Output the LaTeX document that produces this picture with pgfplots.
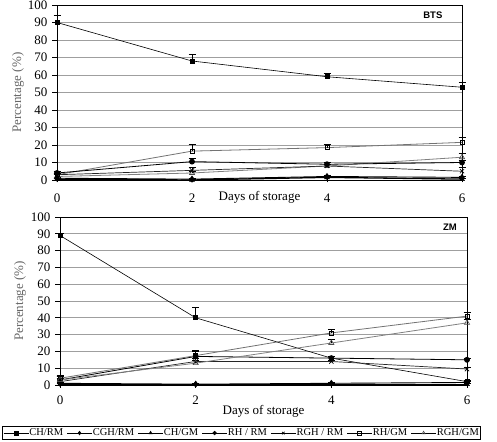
\documentclass[border=0pt]{standalone}
\usepackage{fontspec}
\setmainfont{Liberation Serif}
\newfontfamily\sansb{Liberation Sans}
\usepackage{pgfplots}
\usepackage{pgfplotstable}
\pgfplotsset{compat=1.18}

% BTS data: x y err
\pgfplotstableread{
x y e
0 90 4
2 68 4
4 59 2
6 53 3
}\bCHRM
\pgfplotstableread{
x y e
0 1 0.5
2 0.5 0.5
4 2 0.5
6 1.5 0.5
}\bCGHRM
\pgfplotstableread{
x y e
0 0.5 0.5
2 0 0.5
4 1.5 0.5
6 0.5 0.5
}\bCHGM
\pgfplotstableread{
x y e
0 4 1
2 10.5 2
4 9 1
6 10 1.5
}\bRHRM
\pgfplotstableread{
x y e
0 3 1
2 5.5 2
4 8 1
6 5 2
}\bRGHRM
\pgfplotstableread{
x y e
0 3 1
2 16.5 4
4 18.5 2
6 21.5 3
}\bRHGM
\pgfplotstableread{
x y e
0 2 1
2 4 1
4 8 1
6 13 2
}\bRGHGM

% ZM data
\pgfplotstableread{
x y e
0 89 1
2 40 6
4 16 1
6 2 1
}\zCHRM
\pgfplotstableread{
x y e
0 1 0.5
2 0.5 0.5
4 1 0.5
6 1.5 0.5
}\zCGHRM
\pgfplotstableread{
x y e
0 0.5 0.5
2 0.5 0.5
4 0.5 0.5
6 0.5 0.5
}\zCHGM
\pgfplotstableread{
x y e
0 3 2
2 17 3
4 16 1
6 15 1
}\zRHRM
\pgfplotstableread{
x y e
0 2 2
2 14 2
4 14 1
6 9.5 1
}\zRGHRM
\pgfplotstableread{
x y e
0 4 2
2 17.5 3
4 31 2
6 41 2
}\zRHGM
\pgfplotstableread{
x y e
0 3 2
2 13 2
4 25 2
6 37 2
}\zRGHGM

\pgfplotsset{
  myax/.style={
    scale only axis,
    xmin=0, xmax=6, ymin=0, ymax=100,
    xtick={0,2,4,6}, ytick={0,10,...,100},
    ymajorgrids, grid style={gray!75, line width=0.6pt},
    axis line style={black, line width=0.8pt},
    ytick pos=left, xtick pos=bottom,
    ytick align=outside, xtick align=center,
    major tick length=5pt,
    tick style={black, line width=0.6pt},
    /pgf/number format/assume math mode=true,
    tick label style={font=\fontsize{13}{13}\selectfont},
    yticklabel style={xshift=-1pt},
    label style={font=\fontsize{13}{13}\selectfont},
    ylabel={Percentage (\%)},
    ylabel style={at={(axis description cs:0,0.5)}, anchor=center, text=black!60},
    xlabel={Days of storage},
    clip=false,
  },
  eb/.style={error bars/.cd, y dir=plus, y explicit,
    error bar style={black, line width=0.6pt},
    error mark options={rotate=90, black, mark size=3.5pt, line width=0.6pt}},
  sCHRM/.style={black, line width=0.6pt, mark=square*, mark size=2pt, mark options={solid,fill=black}},
  sCGHRM/.style={black, line width=0.9pt, mark=diamond*, mark size=2.8pt, mark options={solid,fill=black}},
  sCHGM/.style={black, line width=1.3pt, mark=triangle*, mark size=2.8pt, mark options={solid,fill=black,line width=0.5pt}},
  sRHRM/.style={black, line width=0.8pt, mark=*, mark size=2.5pt, mark options={solid,fill=black}},
  sRGHRM/.style={black!85, line width=0.7pt, mark=x, mark size=3pt, mark options={solid,black,line width=0.7pt}},
  sRHGM/.style={gray!90!black, line width=0.8pt, mark=square, mark size=2pt, mark options={solid,black,fill=white,line width=0.6pt}},
  sRGHGM/.style={gray, line width=0.8pt, mark=triangle, mark size=3pt, mark options={solid,black!70,fill=white,line width=0.6pt}},
}

\begin{document}
\begin{tikzpicture}
\path[use as bounding box] (0pt,0pt) rectangle (497pt,441pt);

% ---------- BTS ----------
\begin{axis}[myax, at={(57pt,261pt)}, anchor=south west,
  width=405pt, height=175pt,
  xticklabel style={yshift=-8pt},
  ylabel style={xshift=0pt, yshift=39pt},
  xlabel style={at={(axis description cs:0.5,0)}, anchor=center, yshift=-17pt},
]
\addplot[sRGHGM, eb] table[x=x,y=y,y error=e]{\bRGHGM};
\addplot[sRHGM, eb] table[x=x,y=y,y error=e]{\bRHGM};
\addplot[sRGHRM, eb] table[x=x,y=y,y error=e]{\bRGHRM};
\addplot[sRHRM, eb] table[x=x,y=y,y error=e]{\bRHRM};
\addplot[sCGHRM, eb] table[x=x,y=y,y error=e]{\bCGHRM};
\addplot[sCHGM, eb] table[x=x,y=y,y error=e]{\bCHGM};
\addplot[sCHRM, eb] table[x=x,y=y,y error=e]{\bCHRM};
\node[font=\sansb\bfseries\fontsize{9.5}{10}\selectfont] at (axis description cs:0.928,0.943) {BTS};
\end{axis}

% ---------- ZM ----------
\begin{axis}[myax, at={(60pt,56pt)}, anchor=south west,
  width=407pt, height=168pt,
  ylabel style={yshift=40pt},
  xlabel style={at={(axis description cs:0.5,0)}, anchor=center, yshift=-26pt},
  xticklabel style={yshift=-5pt},
  legend columns=7,
  legend style={at={(axis description cs:-0.1425,-0.286)}, anchor=west,
    draw=black, line width=0.6pt, inner xsep=1pt, inner ysep=0.5pt,
    font=\fontsize{10.5}{10.5}\selectfont,
    nodes={inner xsep=0.5pt, inner ysep=2pt},
    /tikz/every even column/.append style={column sep=3pt}},
  legend cell align=left,
  legend image code/.code={
    \draw[mark repeat=2,mark phase=2,line width=0.6pt,black,mark size=1.8pt] plot coordinates {(0pt,0pt) (12.5pt,0pt) (25pt,0pt)};
  },
]
\addplot[sCHRM, eb] table[x=x,y=y,y error=e]{\zCHRM};
\addlegendentry{CH/RM}
\addplot[sCGHRM, eb] table[x=x,y=y,y error=e]{\zCGHRM};
\addlegendentry{CGH/RM}
\addplot[sCHGM, eb] table[x=x,y=y,y error=e]{\zCHGM};
\addlegendentry{CH/GM}
\addplot[sRHRM, eb] table[x=x,y=y,y error=e]{\zRHRM};
\addlegendentry{RH / RM}
\addplot[sRGHRM, eb] table[x=x,y=y,y error=e]{\zRGHRM};
\addlegendentry{RGH / RM}
\addplot[sRHGM, eb] table[x=x,y=y,y error=e]{\zRHGM};
\addlegendentry{RH/GM}
\addplot[sRGHGM, eb] table[x=x,y=y,y error=e]{\zRGHGM};
\addlegendentry{RGH/GM}
\node[font=\sansb\bfseries\fontsize{9.5}{10}\selectfont] at (axis description cs:0.958,0.94) {ZM};
\end{axis}
\end{tikzpicture}
\end{document}
